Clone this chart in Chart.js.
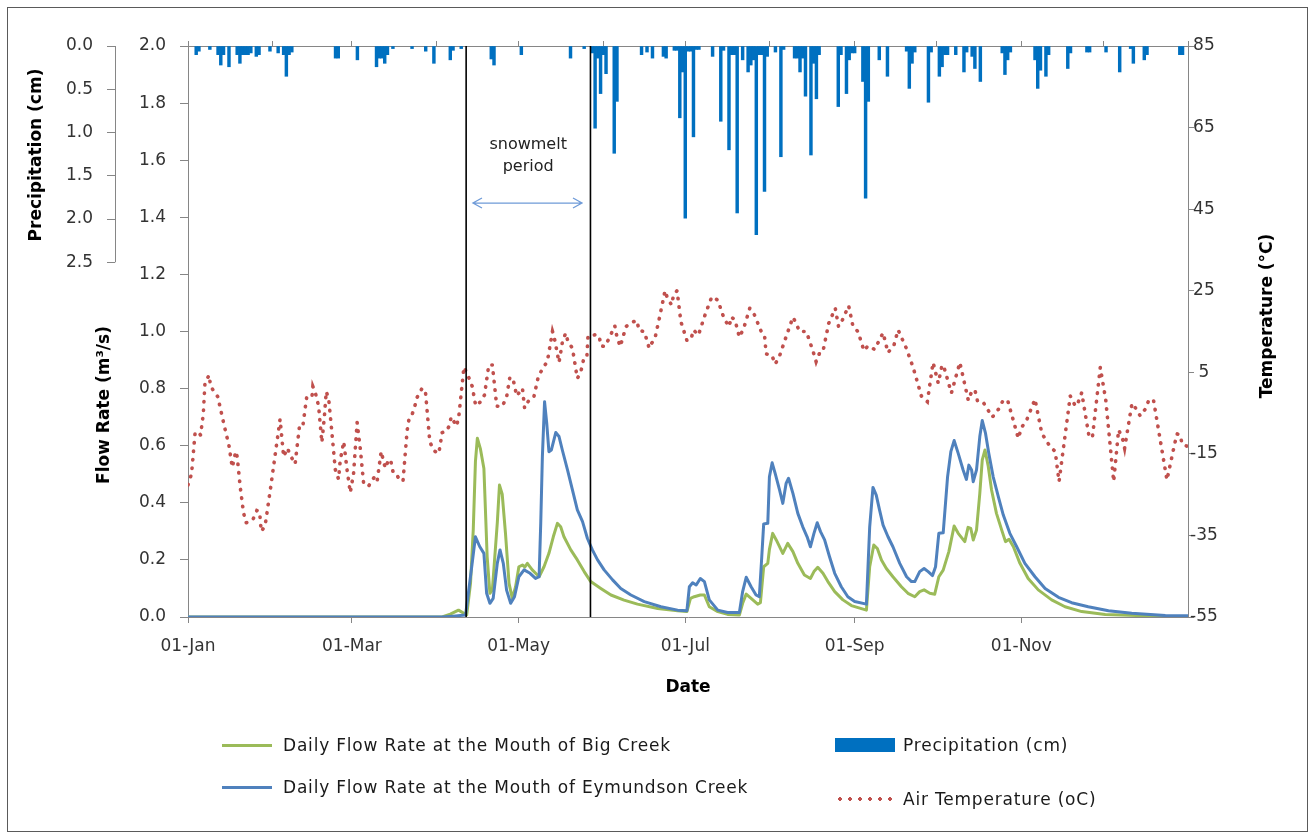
<!DOCTYPE html>
<html>
<head>
<meta charset="utf-8">
<script src="https://cdn.jsdelivr.net/npm/chart.js@4.4.1/dist/chart.umd.min.js"></script>
<style>
  html, body { margin: 0; padding: 0; background: #fff; }
  #wrap { position: relative; width: 1316px; height: 838px; overflow: hidden; }
  #frame { position: absolute; left: 7px; top: 7px; width: 1301px; height: 825px; border: 1px solid #5a5a5a; box-sizing: border-box; }
  #chart { position: absolute; left: 0; top: 0; }
  .leg { position: absolute; display: flex; align-items: center; height: 20px;
         font-family: 'DejaVu Sans', sans-serif; font-size: 17px; color: #1a1a1a;
         letter-spacing: 0.8px; white-space: nowrap; }
  .leg .line { width: 50px; height: 3px; margin-right: 11px; }
  .leg .box { width: 60px; height: 14px; margin-right: 8px; background: #0070C0; }
  .leg .dots { width: 60px; height: 4px; margin-right: 8px;
               background: radial-gradient(circle, #C0504D 1.6px, transparent 2.1px) 0 0 / 10px 4px repeat-x; }
</style>
</head>
<body>
<div id="wrap">
  <div id="frame"></div>
  <canvas id="chart" width="1316" height="838"></canvas>
  <div class="leg" style="left:222px; top:735px;"><span class="line" style="background:#9BBB59"></span>Daily Flow Rate at the Mouth of Big Creek</div>
  <div class="leg" style="left:222px; top:777px;"><span class="line" style="background:#4F81BD"></span>Daily Flow Rate at the Mouth of Eymundson Creek</div>
  <div class="leg" style="left:835px; top:735px;"><span class="box"></span>Precipitation (cm)</div>
  <div class="leg" style="left:835px; top:789px;"><span class="dots"></span>Air Temperature (oC)</div>
</div>
<script>
// day of year (leap year, 0 = 01-Jan)
const dateTickDays = [0, 60, 121, 182, 244, 305];
const dateTickLabels = ['01-Jan', '01-Mar', '01-May', '01-Jul', '01-Sep', '01-Nov'];
const monthStartDays = [0, 31, 60, 91, 121, 152, 182, 213, 244, 274, 305, 335, 366];
const flowTicks = [0, 0.2, 0.4, 0.6, 0.8, 1.0, 1.2, 1.4, 1.6, 1.8, 2.0];
const precipTicks = [0, 0.5, 1.0, 1.5, 2.0, 2.5];
const tempTicks = [-55, -35, -15, 5, 25, 45, 65, 85];

const precipDays = [3, 4, 8, 11, 12, 13, 15, 18, 19, 20, 21, 22, 23, 25, 26, 30, 33, 35, 36, 37, 38,
  54, 55, 62, 69, 70, 71, 72, 73, 75, 82, 87, 90, 96, 97, 100, 111, 112, 122, 140, 145,
  148, 149, 150, 151, 152, 153, 156, 157, 166, 168, 170, 174, 175, 178, 179, 180, 181, 182, 183, 184,
  185, 186, 187, 192, 195, 196, 198, 199, 200, 201, 203, 205, 206, 207, 208, 209, 210, 211, 212, 215,
  217, 218, 222, 223, 224, 225, 226, 228, 229, 230, 231, 238, 239, 241, 242, 243, 244, 247, 248, 249,
  253, 256, 263, 264, 265, 266, 271, 272, 275, 276, 277, 278, 281, 284, 285, 287, 288, 290, 298, 299,
  300, 301, 310, 311, 312, 314, 315, 322, 323, 329, 330, 336, 341, 345, 346, 350, 351, 363, 364];
const precipCm = [0.1, 0.06, 0.04, 0.1, 0.22, 0.1, 0.24, 0.1, 0.2, 0.1, 0.1, 0.1, 0.08, 0.12, 0.1, 0.06, 0.08, 0.1, 0.35, 0.1, 0.07,
  0.14, 0.14, 0.16, 0.24, 0.14, 0.14, 0.2, 0.1, 0.03, 0.03, 0.06, 0.2, 0.16, 0.05, 0.03, 0.15, 0.22, 0.1, 0.14, 0.03,
  0.08, 0.95, 0.14, 0.55, 0.1, 0.32, 1.24, 0.64, 0.1, 0.07, 0.14, 0.12, 0.14, 0.05, 0.05, 0.83, 0.3, 1.99, 0.06, 0.06,
  1.05, 0.04, 0.04, 0.12, 0.87, 0.05, 1.2, 0.1, 0.1, 1.93, 0.16, 0.3, 0.22, 0.16, 2.18, 0.1, 0.1, 1.68, 0.12, 0.07,
  1.28, 0.04, 0.14, 0.14, 0.3, 0.14, 0.58, 1.26, 0.2, 0.61, 0.1, 0.7, 0.1, 0.55, 0.16, 0.08, 0.08, 0.41, 1.76, 0.64,
  0.16, 0.35, 0.06, 0.49, 0.2, 0.07, 0.65, 0.07, 0.35, 0.24, 0.1, 0.1, 0.1, 0.3, 0.07, 0.12, 0.26, 0.41, 0.08, 0.33,
  0.16, 0.07, 0.16, 0.49, 0.28, 0.35, 0.1, 0.26, 0.08, 0.07, 0.07, 0.07, 0.3, 0.03, 0.2, 0.16, 0.1, 0.1, 0.1];

const bigCreekDays = [0, 93, 96, 99, 102, 103.4, 104.4, 105.2, 105.9, 107, 108.3, 109.5, 110.5, 111.4, 113.2, 114, 115,
  116.2, 117.5, 118.7, 119.9, 121.1, 122.4, 123.3, 124.2, 126, 128.5, 130.3, 132.1, 133.7, 135.2, 136.4, 137.6,
  140.1, 142.5, 145, 147.4, 151.1, 154.8, 159.6, 164.5, 171.9, 179.2, 182.6, 183.9, 185.3, 187.5, 189, 190.8,
  193.9, 197.5, 201.8, 203, 204.3, 206.1, 208.5, 209.5, 210.7, 212.2, 212.8, 214, 215.3, 217.7, 219.5, 221.4,
  223.2, 225.6, 227.8, 229.1, 230.5, 232.4, 234.2, 236.7, 239.7, 242.8, 248.3, 249.5, 251, 252.3, 253.8, 255.6,
  258, 261.1, 263.5, 266, 267.8, 269.4, 271.5, 273.3, 274.8, 276.4, 278.5, 280.4, 281.9, 284.3, 285.5, 286.5,
  287.4, 288.6, 289.8, 290.7, 291.7, 292.9, 294.1, 295.9, 297.8, 299.2, 300.5, 302.1, 304.5, 307.5, 311.2,
  316.1, 321, 327.1, 335.7, 347.9, 357.7, 366];
const bigCreekFlow = [0, 0, 0.01, 0.024, 0.007, 0.118, 0.305, 0.544, 0.626, 0.59, 0.52, 0.21, 0.083, 0.095, 0.33, 0.462, 0.43,
  0.293, 0.118, 0.065, 0.106, 0.176, 0.182, 0.175, 0.188, 0.165, 0.141, 0.176, 0.223, 0.281, 0.328, 0.316, 0.281,
  0.235, 0.2, 0.159, 0.124, 0.1, 0.077, 0.059, 0.045, 0.03, 0.022, 0.019, 0.065, 0.071, 0.077, 0.077, 0.036,
  0.019, 0.009, 0.007, 0.048, 0.08, 0.065, 0.045, 0.05, 0.176, 0.188, 0.237, 0.293, 0.27, 0.223, 0.258, 0.229,
  0.188, 0.147, 0.135, 0.159, 0.174, 0.153, 0.124, 0.089, 0.06, 0.04, 0.024, 0.176, 0.252, 0.24, 0.2, 0.17,
  0.141, 0.106, 0.083, 0.071, 0.089, 0.095, 0.083, 0.08, 0.141, 0.164, 0.23, 0.319, 0.293, 0.264, 0.314, 0.31,
  0.27, 0.305, 0.433, 0.55, 0.585, 0.527, 0.445, 0.363, 0.305, 0.264, 0.272, 0.246, 0.188, 0.135, 0.095,
  0.06, 0.036, 0.019, 0.009, 0.005, 0.001, 0];

const eymundsonDays = [0, 93, 97, 101.6, 104, 105.2, 106.8, 108.3, 109.3, 110.5, 111.7, 113.2, 114.2, 115.4, 116.6,
  118.1, 119.5, 121.1, 123, 125.2, 127.2, 128.5, 129.1, 129.7, 130.5, 131.3, 132.1, 133, 134.6, 135.8, 137,
  138.9, 140.7, 142.5, 144.4, 146.2, 148, 149.9, 152.3, 155.4, 158.4, 162.1, 167, 173.1, 179.2, 182.6, 183.5,
  184.7, 186, 187.5, 189, 190.8, 193.9, 197.5, 201.8, 203, 204.3, 206.1, 207.9, 209.1, 210, 210.7, 212.2,
  212.8, 213.8, 214.9, 216.5, 217.7, 218.9, 219.8, 221.4, 223.2, 225, 226.6, 227.8, 229.1, 230.3, 231.5, 233,
  234.8, 236.7, 239.1, 241.5, 244, 248.3, 249.5, 250.7, 251.9, 253.1, 254.4, 256.2, 258, 260.5, 263, 264.8,
  266, 267.8, 269.4, 270.9, 272.5, 273.6, 274.8, 276.4, 278, 279.2, 280.4, 281.9, 283.7, 284.9, 285.8, 286.8,
  287.4, 288.6, 289.8, 290.7, 291.9, 293.1, 294.7, 296.6, 298.4, 300.8, 303.3, 306.3, 310, 313.7, 318.6,
  323.4, 329.5, 336.9, 345.4, 357.7, 366];
const eymundsonFlow = [0, 0, 0.003, 0.007, 0.188, 0.281, 0.246, 0.223, 0.083, 0.048, 0.065, 0.188, 0.235, 0.188, 0.094,
  0.048, 0.071, 0.141, 0.165, 0.153, 0.135, 0.141, 0.328, 0.561, 0.754, 0.678, 0.579, 0.585, 0.646, 0.632, 0.585,
  0.515, 0.445, 0.375, 0.334, 0.275, 0.235, 0.2, 0.165, 0.13, 0.1, 0.077, 0.054, 0.036, 0.024, 0.022, 0.106,
  0.12, 0.112, 0.135, 0.124, 0.06, 0.024, 0.016, 0.016, 0.089, 0.139, 0.106, 0.077, 0.071, 0.211, 0.326, 0.328,
  0.491, 0.54, 0.503, 0.445, 0.398, 0.468, 0.486, 0.433, 0.363, 0.316, 0.281, 0.246, 0.293, 0.33, 0.299, 0.27,
  0.211, 0.153, 0.106, 0.071, 0.054, 0.045, 0.316, 0.454, 0.427, 0.375, 0.322, 0.281, 0.246, 0.188, 0.141, 0.124,
  0.124, 0.159, 0.17, 0.159, 0.145, 0.176, 0.293, 0.295, 0.491, 0.579, 0.618, 0.573, 0.515, 0.482, 0.532, 0.515,
  0.474, 0.515, 0.632, 0.688, 0.643, 0.573, 0.491, 0.421, 0.357, 0.293, 0.246, 0.188, 0.141, 0.1, 0.069,
  0.05, 0.036, 0.022, 0.013, 0.005, 0.004];

const tempDays = [0, 1.3, 2.6, 3.8, 4.6, 5.6, 6.2, 7.7, 8.3, 9.3, 10.9, 11.7, 13.3, 15, 16.2, 17.5, 18, 19.1, 20.3, 21.3,
  23.7, 25.2, 26.2, 26.8, 28.2, 30.3, 33.7, 35, 36.4, 37.4, 39.2, 40.8, 42, 43.5, 45.4, 45.7, 46.6, 47.8, 49, 49.9,
  50.6, 51.5, 52.7, 53.9, 55.1, 55.7, 57, 58.2, 59.4, 60.6, 61.9, 63.1, 64.3, 66.1, 68.2, 69.2, 70.7, 71.6, 72.2,
  73.5, 74.3, 75.1, 76.3, 77.5, 78.7, 80.2, 80.8, 81.7, 82.9, 83.9, 85.7, 86.9, 88.5, 89.9, 91.8, 93, 94.6, 95.8,
  96.3, 98.3, 99.1, 101, 102.6, 104, 105.3, 106.8, 108.5, 110.1, 111.4, 113, 115, 116.6, 117.8, 119, 120.3, 122.4,
  123.2, 124.8, 126.6, 128.2, 130, 131.5, 133.4, 134, 135.8, 137, 138.2, 139.1, 140.7, 142.5, 143.7, 145, 146,
  146.4, 149.2, 150.5, 151.1, 152.5, 154.1, 156.2, 157, 158.2, 160.3, 162.3, 164.3, 165.1, 167, 168.8, 169.7,
  170.9, 172.5, 174.6, 175.5, 177, 177.7, 179, 180.4, 182.6, 184.1, 185, 186.8, 189.2, 191.7, 193.9, 196.3, 198.1,
  198.8, 200.2, 201.8, 203.4, 205.6, 207.3, 209.8, 211, 211.6, 213.7, 214.9, 216.5, 218.9, 221.4, 222.6, 223.8,
  226.3, 228.7, 229.9, 231.2, 232.4, 234.5, 236.9, 238.1, 239.1, 241.8, 243.4, 245.2, 247.4, 248.9, 251.3, 254.4,
  256.2, 258.4, 259.9, 262.9, 265.4, 268.4, 270.6, 272.7, 274.6, 276, 276.8, 279.4, 282.5, 285.6, 286.8, 288, 289,
  291.1, 294.4, 296.6, 298.4, 300, 303.9, 305.1, 306.9, 310, 312.5, 315.5, 317.4, 318.8, 322.9, 324.4, 325.3,
  327.1, 329.8, 331, 333.9, 335.9, 338.8, 340.6, 342, 342.8, 345.5, 347.3, 348.5, 350.3, 351.8, 353.4, 358.3,
  361.1, 362, 363.2, 363.8, 365.6];
const tempC = [-22.6, -19.9, -9.8, -9.6, -10.4, -5.2, 2.3, 4.3, 1.6, 0.5, -1, -3.4, -8.2, -13, -18.3, -14.4, -15.7, -23, -29.4, -31.9,
  -31.2, -28.9, -29.2, -34, -32.7, -23, -6.5, -15.7, -13.6, -15.3, -17.5, -8.2, -8.3, -0.8, -0.8, 1.5, 0, -3.3, -12.2, -6,
  0.3, -1.6, -10, -18.8, -21.2, -16.7, -12, -18.8, -24.5, -19.8, -7.3, -14, -22.4, -22.9, -20.7, -21.8, -14.4, -16.9, -18.5,
  -16.3, -17, -19.6, -19.9, -21.6, -21.6, -9.3, -6.8, -6, -3.6, -1.1, 1.1, 0.3, -12, -14.2, -14.9, -9.8, -9.4, -7.9,
  -5.9, -8.2, -5.9, 6.3, 4, 1.6, -3.2, -2.4, -0.6, 6.8, 6.8, -3.3, -3.4, -1.1, 3.8, 3.3, -0.8, 1.1,
  -3.8, -1.8, -1, 3.9, 6.2, 7.6, 15, 13.7, 7.4, 12.3, 14.6, 12.5, 10.9, 3.5, 4.9, 8.8, 9,
  13.9, 14.2, 13.9, 11.5, 11.3, 13.3, 16.4, 13.7, 11.3, 16.2, 17.2, 17.7, 15.2, 15, 10.9, 12.1,
  13.3, 18.2, 25, 23.1, 21.5, 23.9, 25, 17.4, 12.8, 13.1, 15.4, 14.1, 19, 23.5, 22.7, 18, 16.2,
  18.6, 17.8, 13.6, 15.8, 20.7, 19.1, 15, 14.2, 9.5, 9.2, 7, 9, 13.7, 18.5, 17, 15,
  15, 10.3, 7.6, 9.8, 10.1, 17, 20.7, 16.2, 17.2, 21.3, 16.2, 15, 10.3, 11.5, 10.6, 14.7,
  9.8, 11.7, 15.4, 10.9, 6.2, -0.8, -2.2, 7.4, 2.3, 6.8, 6, -0.1, 7.4, -1.9, 0.3, 0.7, -2.2,
  -2.4, -6, -4.1, -1.8, -1.9, -11.2, -8.5, -6.8, -1.6, -10, -13.2, -14.4, -21.8, -0.8, -2.8, -3.3,
  0, -10.8, -11, 6.2, -1.8, -21.8, -9.1, -11.2, -13.6, -2.6, -4.2, -5.7, -4.1, -1.6, -1.9, -21.4,
  -12.6, -10.1, -10.4, -12.6, -13.1];

const snowmeltStart = 101.8;
const snowmeltEnd = 147.3;

const axisGray = '#868686';
const pairs = (xs, ys) => xs.map((v, i) => ({ x: v, y: ys[i] }));
const fixTicks = values => scale => { scale.ticks = values.map(v => ({ value: v })); };

Chart.defaults.font.family = "'DejaVu Sans', sans-serif";
Chart.defaults.font.size = 17;
Chart.defaults.color = '#333';

// extra drawing: partial precipitation axis, arrow, note, rotated axis titles
const annotations = {
  id: 'annotations',
  afterDraw(chart) {
    const { ctx } = chart;
    const { x, y, yP } = chart.scales;
    ctx.save();

    const ax = Math.round(yP.right) + 0.5;
    ctx.strokeStyle = axisGray;
    ctx.lineWidth = 1;
    ctx.beginPath();
    ctx.moveTo(ax, yP.getPixelForValue(0));
    ctx.lineTo(ax, yP.getPixelForValue(2.5));
    ctx.stroke();

    // snowmelt arrow
    const x1 = x.getPixelForValue(104.3), x2 = x.getPixelForValue(144.2), ay = y.getPixelForValue(1.45);
    ctx.strokeStyle = '#6F9BD8';
    ctx.lineWidth = 1.3;
    ctx.beginPath();
    ctx.moveTo(x1, ay); ctx.lineTo(x2, ay);
    ctx.moveTo(x1 + 9, ay - 5); ctx.lineTo(x1, ay); ctx.lineTo(x1 + 9, ay + 5);
    ctx.moveTo(x2 - 9, ay - 5); ctx.lineTo(x2, ay); ctx.lineTo(x2 - 9, ay + 5);
    ctx.stroke();

    ctx.fillStyle = '#222';
    ctx.font = '16px "DejaVu Sans"';
    ctx.textAlign = 'center';
    ctx.textBaseline = 'middle';
    const tx = x.getPixelForValue(124.5);
    ctx.fillText('snowmelt', tx, y.getPixelForValue(1.653));
    ctx.fillText('period', tx, y.getPixelForValue(1.576));

    ctx.fillStyle = '#000';
    ctx.font = 'bold 17px "DejaVu Sans"';
    const vText = (t, cx, cy) => {
      ctx.save();
      ctx.translate(cx, cy);
      ctx.rotate(-Math.PI / 2);
      ctx.fillText(t, 0, 0);
      ctx.restore();
    };
    vText('Precipitation (cm)', 37, 155);
    vText('Flow Rate (m\u00B3/s)', 105, 405);
    vText('Temperature (\u00B0C)', 1268, 316);
    ctx.restore();
  }
};

new Chart(document.getElementById('chart'), {
  type: 'line',
  data: {
    datasets: [
      { label: 'start', data: [{ x: snowmeltStart, y: 0 }, { x: snowmeltStart, y: 2 }],
        borderColor: '#000', borderWidth: 1.6, pointRadius: 0, xAxisID: 'x', yAxisID: 'y', order: 0 },
      { label: 'end', data: [{ x: snowmeltEnd, y: 0 }, { x: snowmeltEnd, y: 2 }],
        borderColor: '#000', borderWidth: 1.6, pointRadius: 0, xAxisID: 'x', yAxisID: 'y', order: 0 },
      { label: 'Daily Flow Rate at the Mouth of Eymundson Creek', data: pairs(eymundsonDays, eymundsonFlow),
        borderColor: '#4F81BD', borderWidth: 3, pointRadius: 0, tension: 0, borderJoinStyle: 'round',
        xAxisID: 'x', yAxisID: 'y', order: 1 },
      { label: 'Daily Flow Rate at the Mouth of Big Creek', data: pairs(bigCreekDays, bigCreekFlow),
        borderColor: '#9BBB59', borderWidth: 3, pointRadius: 0, tension: 0, borderJoinStyle: 'round',
        xAxisID: 'x', yAxisID: 'y', order: 2 },
      { label: 'Air Temperature (oC)', data: pairs(tempDays, tempC),
        borderColor: '#C0504D', borderWidth: 3.6, borderDash: [0.5, 8], borderCapStyle: 'round',
        pointRadius: 0, tension: 0, xAxisID: 'x', yAxisID: 'yT', order: 3 },
      { type: 'bar', label: 'Precipitation (cm)', data: pairs(precipDays, precipCm),
        backgroundColor: '#0070C0', borderWidth: 0, barThickness: 2.8,
        xAxisID: 'x', yAxisID: 'yP', order: 4 }
    ]
  },
  options: {
    responsive: false,
    animation: false,
    events: [],
    layout: { padding: { left: 8, right: 68, top: 40, bottom: 131 } },
    plugins: { legend: { display: false }, tooltip: { enabled: false } },
    scales: {
      x: {
        type: 'linear', position: 'bottom', min: 0, max: 366, offset: false,
        afterBuildTicks: fixTicks(dateTickDays),
        afterFit: s => { s.height = 90; },
        grid: { drawOnChartArea: false, offset: false, tickLength: 6, color: axisGray },
        border: { color: axisGray },
        ticks: { autoSkip: false, maxRotation: 0, padding: 13, callback: (v, i) => dateTickLabels[i] },
        title: { display: true, text: 'Date', color: '#000', font: { weight: 'bold', size: 17 },
                 padding: { top: 0, bottom: 9 } }
      },
      xTop: {
        type: 'linear', position: 'top', min: 0, max: 366, offset: false,
        afterBuildTicks: fixTicks(monthStartDays),
        afterFit: s => { s.height = 6; },
        grid: { drawOnChartArea: false, offset: false, tickLength: 5, color: axisGray },
        border: { color: axisGray },
        ticks: { display: false }
      },
      y: {
        type: 'linear', position: 'left', min: 0, max: 2, weight: 0,
        afterBuildTicks: fixTicks(flowTicks),
        afterFit: s => { s.width = 73; },
        grid: { drawOnChartArea: false, tickLength: 8, color: axisGray },
        border: { color: axisGray },
        ticks: { padding: 14, callback: v => v.toFixed(1) }
      },
      yP: {
        type: 'linear', position: 'left', reverse: true, min: 0, max: 6.6, weight: 1,
        afterBuildTicks: fixTicks(precipTicks),
        afterFit: s => { s.width = 107; },
        grid: { drawOnChartArea: false, tickLength: 8, color: axisGray },
        border: { display: false },
        ticks: { padding: 14, callback: v => v.toFixed(1) }
      },
      yT: {
        type: 'linear', position: 'right', min: -55, max: 85,
        afterBuildTicks: fixTicks(tempTicks),
        afterFit: s => { s.width = 60; },
        grid: { drawOnChartArea: false, tickLength: 6, color: axisGray },
        border: { color: axisGray },
        ticks: { crossAlign: 'center', padding: -4, callback: v => String(v) }
      }
    }
  },
  plugins: [annotations]
});
</script>
</body>
</html>
